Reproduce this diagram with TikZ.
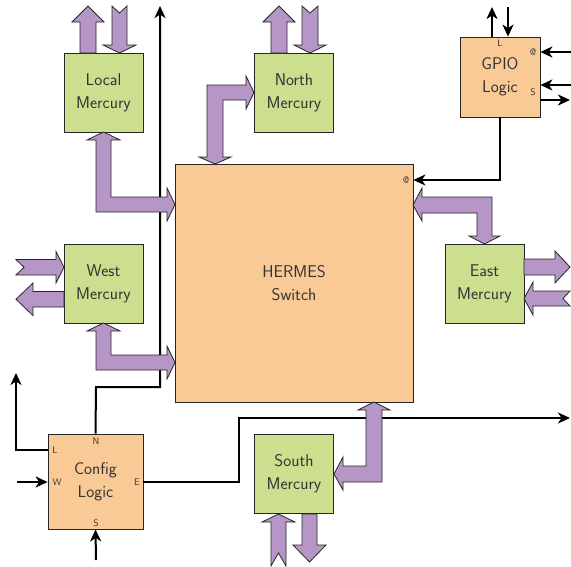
\documentclass[tikz,border=0pt]{standalone}
\usetikzlibrary{arrows.meta}
\definecolor{hgreen}{HTML}{CBDF8F}
\definecolor{horange}{HTML}{F9C996}
\definecolor{hpurple}{HTML}{B696C6}
\definecolor{htext}{HTML}{333333}
\begin{document}
\begin{tikzpicture}[x=1pt,y=-1pt,
  box/.style={draw=black!85, line width=0.8pt, minimum width=#1, minimum height=#1,
    inner sep=0pt, align=center, font=\fontsize{17}{23}\selectfont\sffamily, text=htext},
  merc/.style={box=79pt, fill=hgreen},
  logic/.style={box=#1, fill=horange},
  lab/.style={font=\fontsize{9.5}{10}\selectfont\sffamily, text=htext, inner sep=0pt},
  conn/.style={line width=2pt, -{Stealth[length=12pt,width=11pt,inset=3.5pt]}},
  fat/.style={fill=hpurple, draw=black!85, line width=0.8pt, line join=miter}]
\useasboundingbox (0,0) rectangle (571,566);

% boxes
\node[logic=238pt] (hermes) at (294,283) {HERMES\\Switch};
\node[merc] (local) at (103.5,93) {Local\\Mercury};
\node[merc] (north) at (294,93) {North\\Mercury};
\node[merc] (west) at (103.5,283.5) {West\\Mercury};
\node[merc] (east) at (484.5,283.5) {East\\Mercury};
\node[merc] (south) at (294,474) {South\\Mercury};
\node[logic=80pt] (gpio) at (500,77) {GPIO\\Logic};
\node[logic=95pt] (config) at (95.5,481.5) {Config\\Logic};

% small port labels
\node[lab] (gL) at (500,43) {L};
\node[lab] (gAt) at (533,52) {@};
\node[lab] (gS) at (533,92) {S};
\node[lab] (hAt) at (406,180) {@};
\node[lab] (cL) at (55,450) {L};
\node[lab] (cW) at (57,482) {W};
\node[lab] (cE) at (137,482) {E};
\node[lab] (cN) at (96,441) {N};
\node[lab] (cS) at (96,523) {S};

% free ends of wires
\coordinate (topout) at (160,6);
\coordinate (lout) at (16,373);
\coordinate (win) at (17,482);
\coordinate (sin) at (96,560);
\coordinate (eout) at (570,418);
\coordinate (gup) at (492,7);
\coordinate (gdown) at (508,7);
\coordinate (gin1) at (571,52);
\coordinate (gin2) at (571,85);
\coordinate (gout) at (570,100);

% black wires
\draw[conn] (config.north) -- (96,387) -- (160,387) -- (topout);
\draw[conn] (config.west |- cL) -- (16,450) -- (lout);
\draw[conn] (win) -- (config.west |- win);
\draw[conn] (sin) -- (config.south);
\draw[conn] (config.east |- cE) -- (239,482) -- (239,418) -- (eout);
\draw[conn] (gpio.south) -- (500,180) -- (hermes.east |- hAt);
\draw[conn] (gpio.north -| gup) -- (gup);
\draw[conn] (gdown) -- (gpio.north -| gdown);
\draw[conn] (gin1) -- (gpio.east |- gin1);
\draw[conn] (gin2) -- (gpio.east |- gin2);
\draw[conn] (gpio.east |- gout) -- (gout);

% fat arrows: Local
\draw[fat] (80,53) -- (80,22) -- (72,22) -- (88,6) -- (104,22) -- (96,22) -- (96,53) -- cycle;
\draw[fat] (112,6) -- (119.5,13) -- (127,6) -- (127,45) -- (136,45) -- (119.5,53) -- (103,45) -- (112,45) -- cycle;
% North
\draw[fat] (271,53) -- (271,22) -- (263,22) -- (279,6) -- (295,22) -- (287,22) -- (287,53) -- cycle;
\draw[fat] (302,6) -- (310,13) -- (318,6) -- (318,45) -- (326,45) -- (310,53) -- (294,45) -- (302,45) -- cycle;
% South
\draw[fat] (271,566) -- (278.5,553) -- (286,566) -- (286,522) -- (295,522) -- (278.5,514) -- (262,522) -- (271,522) -- cycle;
\draw[fat] (302,514) -- (302,545) -- (293,545) -- (309.5,562) -- (326,545) -- (317,545) -- (317,514) -- cycle;
% West
\draw[fat] (16,259.5) -- (24,267.25) -- (16,275) -- (56,275) -- (56,283) -- (64,267.25) -- (56,251.5) -- (56,259.5) -- cycle;
\draw[fat] (64,291.5) -- (33,291.5) -- (33,283) -- (16,299.25) -- (33,315.5) -- (33,307) -- (64,307) -- cycle;
% East
\draw[fat] (524,259) -- (555,259) -- (555,251) -- (570,267) -- (555,283) -- (555,275) -- (524,275) -- cycle;
\draw[fat] (570,291) -- (563,298.5) -- (570,306) -- (533,306) -- (533,315) -- (524,298.5) -- (533,282) -- (533,291) -- cycle;
% Local <-> HERMES
\draw[fat] (103.5,132) -- (120,140) -- (111,140) -- (111,197) -- (167,197) -- (167,188) -- (175,204.5) -- (167,221) -- (167,212) -- (96,212) -- (96,140) -- (87,140) -- cycle;
% West <-> HERMES
\draw[fat] (103.5,323) -- (120,331) -- (111,331) -- (111,355) -- (167,355) -- (167,346) -- (175,362.5) -- (167,379) -- (167,370) -- (96,370) -- (96,331) -- (87,331) -- cycle;
% North <-> HERMES
\draw[fat] (254,92.5) -- (246,109) -- (246,100) -- (223,100) -- (223,157) -- (231,157) -- (215,164) -- (199,157) -- (207,157) -- (207,85) -- (246,85) -- (246,76) -- cycle;
% East <-> HERMES
\draw[fat] (413,205) -- (422,188) -- (422,197) -- (492,197) -- (492,236) -- (500,236) -- (484.5,244) -- (469,236) -- (477,236) -- (477,213) -- (422,213) -- (422,221) -- cycle;
% South <-> HERMES
\draw[fat] (374,402) -- (390,410) -- (382,410) -- (382,482) -- (343,482) -- (343,490) -- (334,474) -- (343,457) -- (343,466) -- (366,466) -- (366,410) -- (358,410) -- cycle;
\end{tikzpicture}
\end{document}
